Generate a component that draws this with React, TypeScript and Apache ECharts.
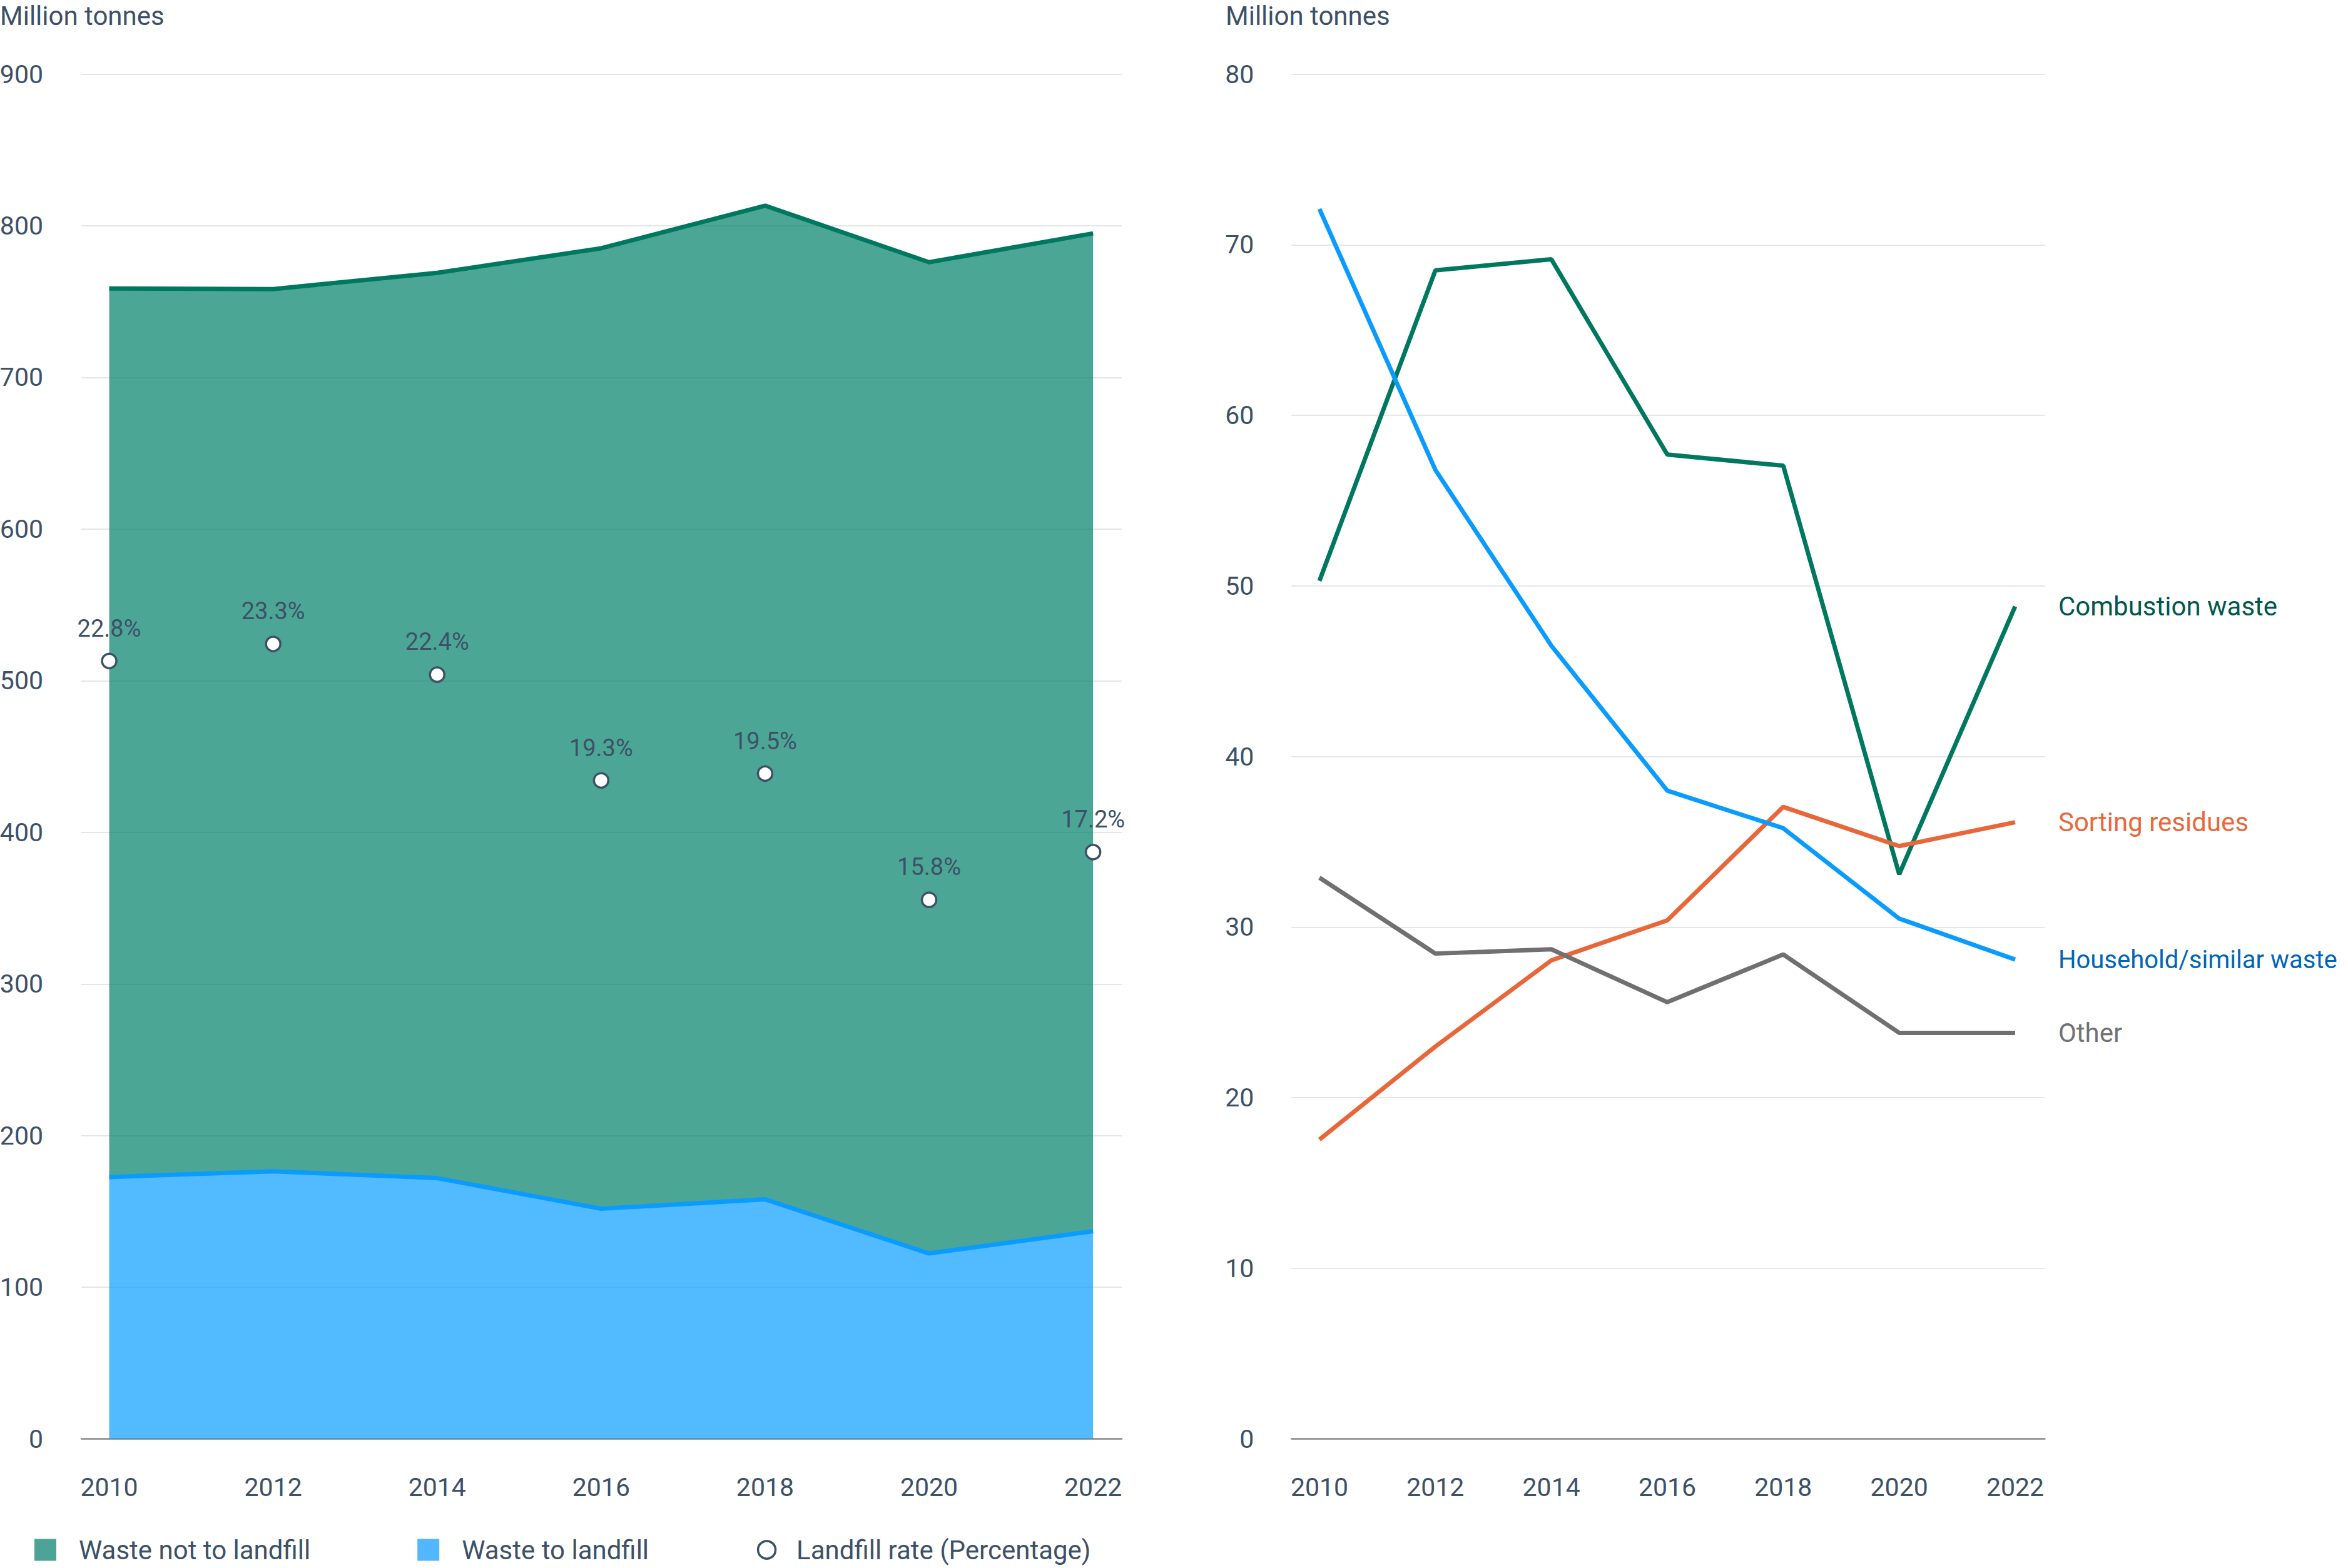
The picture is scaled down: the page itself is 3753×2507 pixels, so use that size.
import React, { useEffect, useRef } from 'react';
import * as echarts from 'echarts';

const years = [2010, 2012, 2014, 2016, 2018, 2020, 2022];

// Left chart (million tonnes)
const wasteToLandfill = [172.7, 176.5, 172.0, 151.8, 158.0, 122.3, 137.0];
const wasteNotToLandfill = [586.0, 581.8, 597.0, 633.4, 655.3, 653.7, 658.0];
const landfillRate = [22.8, 23.3, 22.4, 19.3, 19.5, 15.8, 17.2];

// Right chart (million tonnes)
const combustionWaste = [50.3, 68.5, 69.15, 57.7, 57.05, 33.1, 48.8];
const sortingResidues = [17.55, 23.0, 28.05, 30.4, 37.05, 34.75, 36.15];
const householdWaste = [72.1, 56.8, 46.5, 38.0, 35.8, 30.5, 28.1];
const otherWaste = [32.9, 28.45, 28.7, 25.6, 28.4, 23.8, 23.8];

const TEXT = '#3d5166';
const FONT = 'Roboto';

export default function App() {
  const ref = useRef<HTMLDivElement>(null);

  useEffect(() => {
    const chart = echarts.init(ref.current as HTMLDivElement, null, { renderer: 'svg' });
    const pairs = (vals: number[]) => years.map((y, i) => [y, vals[i]]);
    // value first so that stacking happens on the y dimension
    const pairsVY = (vals: number[]) => years.map((y, i) => [vals[i], y]);

    const xLabel = {
      show: true,
      customValues: years,
      fontSize: 41,
      color: TEXT,
      fontFamily: FONT,
      margin: 57,
      formatter: (v: number) => String(Math.round(v)),
    };
    const xAxisCommon = {
      type: 'value',
      axisTick: { show: false },
      splitLine: { show: false },
      axisLine: { show: true, lineStyle: { color: '#8a8a8a', width: 2.5 } },
      axisLabel: xLabel,
    };
    const yAxisCommon = {
      type: 'value',
      axisTick: { show: false },
      axisLine: { show: false },
      splitLine: { show: true, lineStyle: { color: '#e6e6e6', width: 2 } },
    };

    const rightLine = (name: string, vals: number[], color: string, labelColor: string, fontSize = 42) => ({
      name,
      type: 'line',
      xAxisIndex: 1,
      yAxisIndex: 2,
      data: pairs(vals),
      symbol: 'none',
      showSymbol: false,
      lineStyle: { color, width: 7 },
      itemStyle: { color },
      endLabel: {
        show: true,
        formatter: name,
        distance: 69,
        fontSize,
        fontFamily: FONT,
        color: labelColor,
      },
      z: 3,
    });

    const titleStyle = { fontSize: 42, fontWeight: 'normal', color: TEXT, fontFamily: FONT, lineHeight: 42 };

    chart.setOption({
      animation: false,
      backgroundColor: '#ffffff',
      textStyle: { fontFamily: FONT },
      title: [
        { text: 'Million tonnes', left: 0, top: 4, padding: 0, textStyle: titleStyle },
        { text: 'Million tonnes', left: 1959, top: 4, padding: 0, textStyle: titleStyle },
      ],
      legend: {
        left: 55,
        top: 2457,
        padding: 0,
        itemWidth: 35,
        itemHeight: 35,
        itemGap: 171,
        selectedMode: false,
        textStyle: { fontSize: 42, color: TEXT, fontFamily: FONT, padding: [0, 0, 0, 31] },
        data: [
          { name: 'Waste not to landfill', icon: 'rect', itemStyle: { color: '#4DA396', borderWidth: 0 } },
          { name: 'Waste to landfill', icon: 'rect', itemStyle: { color: '#52B7FE', borderWidth: 0 } },
          {
            name: 'Landfill rate (Percentage)',
            itemStyle: { color: '#ffffff', borderColor: TEXT, borderWidth: 3.5 },
            lineStyle: { width: 0, opacity: 0 },
            textStyle: { padding: [0, 0, 0, 25] },
          },
        ],
      },
      grid: [
        { left: 130, top: 118.6, width: 1663, height: 2182, containLabel: false, outerBoundsMode: 'none' },
        { left: 2064.3, top: 118.6, width: 1204.2, height: 2182, containLabel: false, outerBoundsMode: 'none' },
      ],
      xAxis: [
        { ...xAxisCommon, gridIndex: 0, min: 2009.66, max: 2022.35 },
        { ...xAxisCommon, gridIndex: 1, min: 2009.518, max: 2022.513 },
      ],
      yAxis: [
        {
          ...yAxisCommon,
          gridIndex: 0,
          min: 0,
          max: 900,
          interval: 100,
          axisLabel: { fontSize: 41, color: TEXT, fontFamily: FONT, margin: 61 },
        },
        { type: 'value', gridIndex: 0, min: 0, max: 40, show: false, splitLine: { show: false } },
        {
          ...yAxisCommon,
          gridIndex: 1,
          min: 0,
          max: 80,
          interval: 10,
          axisLabel: { fontSize: 41, color: TEXT, fontFamily: FONT, margin: 60 },
        },
      ],
      series: [
        {
          name: 'Waste to landfill',
          type: 'line',
          xAxisIndex: 0,
          yAxisIndex: 0,
          stack: 'total',
          data: pairsVY(wasteToLandfill),
          encode: { x: 1, y: 0 },
          symbol: 'none',
          showSymbol: false,
          lineStyle: { color: '#0A9BFF', width: 7 },
          itemStyle: { color: '#52B7FE' },
          areaStyle: { color: '#0099FF', opacity: 0.68 },
          z: 3,
        },
        {
          name: 'Waste not to landfill',
          type: 'line',
          xAxisIndex: 0,
          yAxisIndex: 0,
          stack: 'total',
          data: pairsVY(wasteNotToLandfill),
          encode: { x: 1, y: 0 },
          symbol: 'none',
          showSymbol: false,
          lineStyle: { color: '#00785F', width: 7 },
          itemStyle: { color: '#4DA396' },
          areaStyle: { color: '#00806A', opacity: 0.7 },
          z: 2,
        },
        {
          name: 'Landfill rate (Percentage)',
          type: 'line',
          xAxisIndex: 0,
          yAxisIndex: 1,
          data: pairs(landfillRate),
          symbol: 'circle',
          symbolSize: 23,
          showSymbol: true,
          lineStyle: { width: 0, opacity: 0 },
          itemStyle: { color: '#ffffff', borderColor: TEXT, borderWidth: 3.5 },
          label: {
            show: true,
            position: 'top',
            distance: 20,
            fontSize: 38,
            fontFamily: FONT,
            color: TEXT,
            formatter: (p: any) => p.value[1].toFixed(1) + '%',
          },
          z: 5,
        },
        rightLine('Combustion waste', combustionWaste, '#00785F', '#00594B'),
        rightLine('Sorting residues', sortingResidues, '#E8673A', '#E8693A'),
        rightLine('Household/similar waste', householdWaste, '#0A9BFF', '#0066B8', 40),
        rightLine('Other', otherWaste, '#707070', '#727272'),
      ],
    });

    return () => chart.dispose();
  }, []);

  return (
    <div
      ref={ref}
      style={{ position: 'absolute', left: 0, top: 0, width: 3753, height: 2507, background: '#ffffff' }}
    />
  );
}
